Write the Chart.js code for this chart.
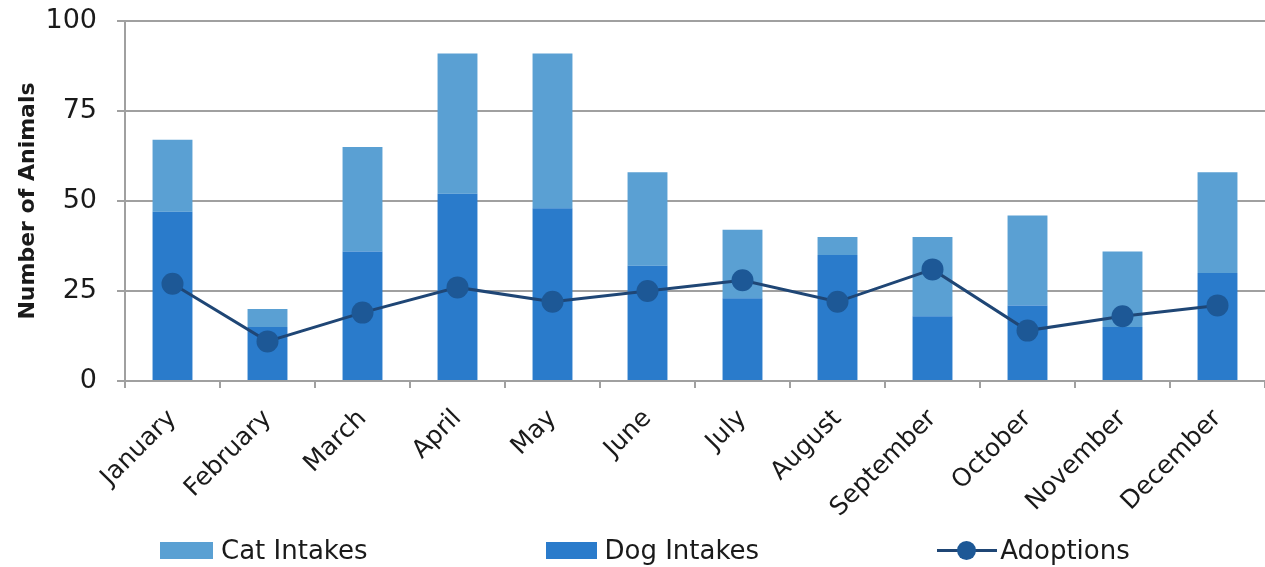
<!DOCTYPE html>
<html>
<head>
<meta charset="utf-8">
<script src="https://cdn.jsdelivr.net/npm/chart.js@4.4.1/dist/chart.umd.min.js"></script>
<style>
  html, body { margin: 0; padding: 0; background: #fff; overflow: hidden; }
  #wrap { position: relative; width: 1265px; height: 567px; }
  #legend { position: absolute; left: 160px; top: 530px; height: 40px; display: flex; align-items: center;
            font: 26px 'DejaVu Sans', sans-serif; color: #1a1a1a; }
  #legend .item { display: flex; align-items: center; margin-right: 178px; }
  #legend .item:last-child { margin-right: 0; }
  #legend .swatch { height: 17px; margin-right: 8px; }
  #legend .line { position: relative; width: 60px; height: 20px; margin-right: 3px; }
  #legend .line::before { content: ''; position: absolute; left: 0; right: 0; top: 9px; height: 3px; background: var(--line); }
  #legend .line::after { content: ''; position: absolute; left: 20px; top: 1px; width: 19px; height: 19px; border-radius: 50%; background: var(--dot); }
</style>
</head>
<body>
<div id="wrap">
  <canvas id="chart" width="1265" height="567"></canvas>
  <div id="legend"></div>
</div>
<script>
// Monthly shelter intakes (stacked dogs + cats) with adoptions as a line.
const MONTHS = ['January', 'February', 'March', 'April', 'May', 'June', 'July', 'August', 'September', 'October', 'November', 'December'];
const DOG_INTAKES = [47, 15, 36, 52, 48, 32, 23, 35, 18, 21, 15, 30];
const CAT_INTAKES = [20, 5, 29, 39, 43, 26, 19, 5, 22, 25, 21, 28];
const ADOPTIONS = [27, 11, 19, 26, 22, 25, 28, 22, 31, 14, 18, 21];
const Y_TICKS = [0, 25, 50, 75, 100];

const CAT = '#5aa0d3', DOG = '#2a7bcb', LINE = '#1f4675', DOT = '#1d5896';
const GRID = '#a0a0a0', INK = '#1a1a1a';
const FONT = "'DejaVu Sans', sans-serif";

const chart = new Chart(document.getElementById('chart'), {
  data: {
    labels: MONTHS,
    datasets: [
      { type: 'bar', label: 'Dog Intakes', data: DOG_INTAKES, backgroundColor: DOG, stack: 'intake', order: 2,
        barPercentage: 1, categoryPercentage: 0.42 },
      { type: 'bar', label: 'Cat Intakes', data: CAT_INTAKES, backgroundColor: CAT, stack: 'intake', order: 2,
        barPercentage: 1, categoryPercentage: 0.42 },
      { type: 'line', label: 'Adoptions', data: ADOPTIONS, stack: 'adopt', order: 1,
        borderColor: LINE, borderWidth: 3, tension: 0,
        pointRadius: 11, pointHoverRadius: 11, pointBackgroundColor: DOT, pointBorderColor: DOT, pointBorderWidth: 0 },
    ],
  },
  options: {
    responsive: false,
    animation: false,
    // the plot runs a few pixels past the right edge of the canvas
    layout: { autoPadding: false, padding: { left: 0, right: -6, top: 21, bottom: 0 } },
    plugins: { legend: { display: false }, tooltip: { enabled: false } },
    scales: {
      x: {
        stacked: true,
        grid: { drawOnChartArea: false, color: GRID, lineWidth: 2, tickLength: 7, offset: true },
        border: { color: GRID, width: 2 },
        ticks: { color: INK, font: { family: FONT, size: 25 }, minRotation: 45, maxRotation: 45, padding: 16 },
        afterFit: (s) => { s.height = 186; s.paddingLeft = 0; s.paddingRight = 0; },
      },
      y: {
        stacked: true,
        min: 0,
        max: 100,
        afterBuildTicks: (axis) => { axis.ticks = Y_TICKS.map((v) => ({ value: v })); },
        grid: { color: GRID, lineWidth: 2, tickLength: 8 },
        border: { color: GRID, width: 2 },
        ticks: { color: INK, font: { family: FONT, size: 27 }, padding: 20 },
        title: { display: true, text: 'Number of Animals', color: INK, font: { family: FONT, size: 22, weight: 'bold' },
                 padding: { top: 15, bottom: 0 } },
        afterFit: (s) => { s.width = 125; s.paddingTop = 0; s.paddingBottom = 0; },
      },
    },
  },
});

// legend in Cat, Dog, Adoptions order, built from the datasets
const legend = document.getElementById('legend');
[1, 0, 2].forEach((i) => {
  const ds = chart.data.datasets[i];
  const item = document.createElement('div');
  item.className = 'item';
  const sw = document.createElement('div');
  if (ds.type === 'line') {
    sw.className = 'line';
    sw.style.setProperty('--line', ds.borderColor);
    sw.style.setProperty('--dot', ds.pointBackgroundColor);
  } else {
    sw.className = 'swatch';
    sw.style.width = (i === 1 ? 53 : 51) + 'px';
    sw.style.background = ds.backgroundColor;
  }
  const txt = document.createElement('span');
  txt.textContent = ds.label;
  item.append(sw, txt);
  legend.append(item);
});
</script>
</body>
</html>
